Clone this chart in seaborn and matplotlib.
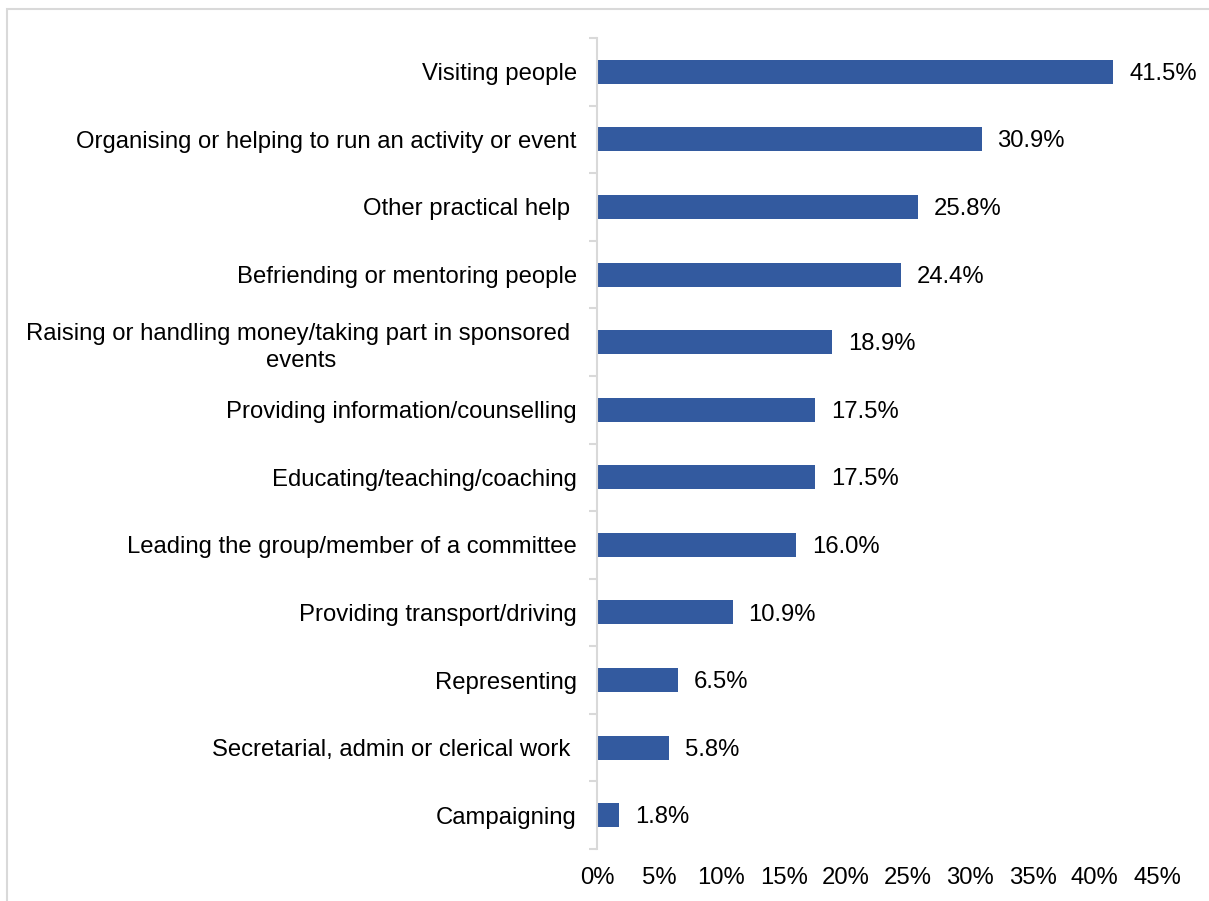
import matplotlib
matplotlib.use("Agg")
import matplotlib.pyplot as plt
import matplotlib.patches as mpatches
from matplotlib.ticker import FixedLocator, FuncFormatter
import seaborn as sns
import pandas as pd
import numpy as np

categories = [
    "Visiting people",
    "Organising or helping to run an activity or event",
    "Other practical help ",
    "Befriending or mentoring people",
    "Raising or handling money/taking part in sponsored \nevents",
    "Providing information/counselling",
    "Educating/teaching/coaching",
    "Leading the group/member of a committee",
    "Providing transport/driving",
    "Representing",
    "Secretarial, admin or clerical work ",
    "Campaigning",
]
values = [41.5, 30.9, 25.8, 24.4, 18.9, 17.5, 17.5, 16.0, 10.9, 6.5, 5.8, 1.8]
x_ticks = [0, 5, 10, 15, 20, 25, 30, 35, 40, 45]

BAR_COLOR = "#335A9F"
GRID_GRAY = "#D9D9D9"
FONT_SIZE = 17.2

sns.set_theme(style="white")
plt.rcParams["font.family"] = ["Liberation Sans", "DejaVu Sans"]

df = pd.DataFrame({"activity": categories, "share": values})

fig = plt.figure(figsize=(12.09, 9.01), dpi=100)
ax = fig.add_axes([597 / 1209, 1 - 849 / 901, (1157 - 597) / 1209, (849 - 38) / 901])

sns.barplot(data=df, y="activity", x="share", orient="h", color=BAR_COLOR,
            width=0.355, saturation=1, linewidth=0, ax=ax)

ax.set_xlim(0, 45)
ax.set_ylim(len(categories) - 0.5, -0.5)
ax.set_xlabel("")
ax.set_ylabel("")

# value labels at the bar ends
for container in ax.containers:
    anns = ax.bar_label(container, labels=[f"{v:.1f}%" for v in values],
                        padding=11.5, fontsize=FONT_SIZE, color="black")
    for a in anns:
        a.xyann = (11.5, -1.5)

# x axis: percentage labels only
ax.xaxis.set_major_locator(FixedLocator(x_ticks))
ax.xaxis.set_major_formatter(FuncFormatter(lambda v, p: f"{v:.0f}%"))
ax.tick_params(axis="x", length=0, pad=13, labelsize=FONT_SIZE, colors="black")

# y axis: labels centred on bars, tick marks between categories
ax.tick_params(axis="y", which="major", length=0, pad=14.5, labelsize=FONT_SIZE, colors="black")
for lab in ax.get_yticklabels():
    lab.set_multialignment("center")
    lab.set_linespacing(1.3)
ax.yaxis.set_minor_locator(FixedLocator(np.arange(-0.5, len(categories), 1.0)))
ax.tick_params(axis="y", which="minor", length=6, width=1.5, color=GRID_GRAY, left=True)

for side in ["top", "right", "bottom"]:
    ax.spines[side].set_visible(False)
ax.spines["left"].set_color(GRID_GRAY)
ax.spines["left"].set_linewidth(1.5)

# outer chart-area border
border = mpatches.Rectangle((7 / 1209, -0.05), 1.1, 1 - 9 / 901 + 0.05,
                            transform=fig.transFigure, fill=False,
                            edgecolor=GRID_GRAY, linewidth=1.5, clip_on=False)
fig.patches.append(border)

fig.savefig("out.png", dpi=100, facecolor="white")
